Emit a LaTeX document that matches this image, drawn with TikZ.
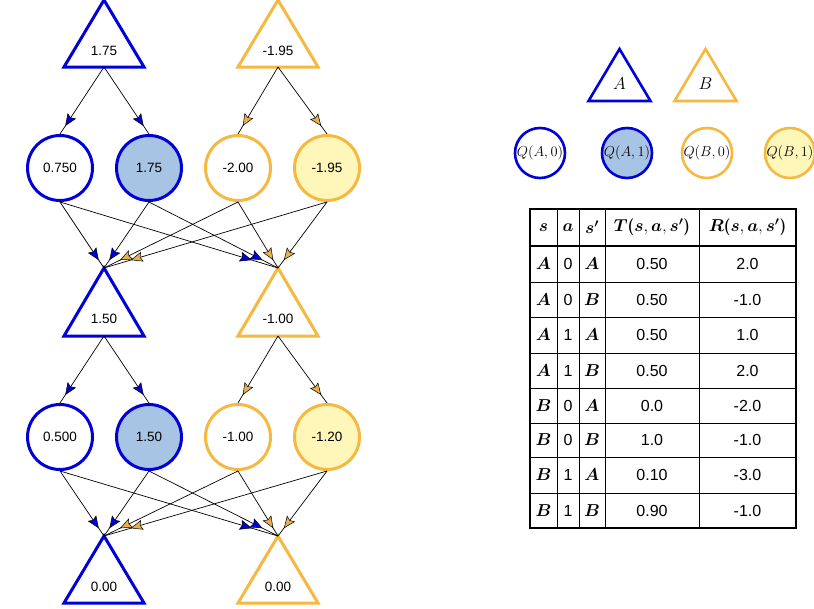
\documentclass[tikz,border=0pt]{standalone}
\usepackage{amsmath}
\usepackage[no-math]{fontspec}
\setmainfont{Liberation Sans}
\usetikzlibrary{arrows.meta,decorations.markings}
\DeclareMathAlphabet{\mathbi}{OML}{cmm}{b}{it}
\DeclareMathAlphabet{\mathbsy}{OMS}{cmsy}{b}{n}
\definecolor{qblue}{RGB}{0,0,215}
\definecolor{qorange}{RGB}{245,185,65}
\definecolor{fillblue}{RGB}{168,196,228}
\definecolor{fillyellow}{RGB}{255,246,185}
\definecolor{headorange}{RGB}{232,176,80}
\newcommand{\nodenumfont}{\fontsize{13.5}{15}\selectfont}
\newcommand{\tabnumfont}{\fontsize{16}{18}\selectfont}
\newcommand{\tabmathfont}{\fontsize{17}{20}\selectfont}
\newcommand{\legqfont}{\fontsize{15.5}{16}\selectfont}
\newcommand{\legtfont}{\fontsize{17.5}{20}\selectfont}
\newcommand{\bparen}[1]{\text{\fontfamily{lmr}\bfseries #1}}
\newcommand{\bprime}{^{\mathbsy{0}}}
\tikzset{
  tri/.style={line width=3pt, line join=miter},
  legtri/.style={line width=2.6pt, line join=miter},
  circ/.style={circle, line width=3pt, minimum size=65pt, inner sep=0pt, font=\nodenumfont},
  legcirc/.style={circle, line width=2.6pt, minimum size=50pt, inner sep=0pt, font=\legqfont},
  numlbl/.style={inner sep=0pt, font=\nodenumfont},
  conn/.style={draw=black, line width=0.7pt, postaction={decorate}},
  bhead/.style={conn, decoration={markings, mark=at position 0.88 with {\arrow{Stealth[length=12pt,width=10pt,inset=2pt,fill=qblue,color=black,line width=0.5pt]}}}},
  ohead/.style={conn, decoration={markings, mark=at position 0.88 with {\arrow{Stealth[length=12pt,width=10pt,inset=2pt,fill=headorange,color=black,line width=0.5pt]}}}},
  cell/.style={inner sep=0pt, font=\tabnumfont},
  mcell/.style={inner sep=0pt, font=\tabmathfont},
  tabouter/.style={line width=2pt},
  tabinner/.style={line width=0.8pt}
}
\begin{document}
\begin{tikzpicture}[x=1pt,y=-1pt]
\useasboundingbox (0,0) rectangle (814,608);
\fill[white] (0,0) rectangle (814,608);

% ---------- Level 1 triangles ----------
\coordinate (A1) at (104,0);
\coordinate (A1b) at (104,67);
\draw[tri,qblue] (A1) -- (64,67) -- (144,67) -- cycle;
\node[numlbl] (A1l) at (104,51) {1.75};
\coordinate (B1) at (278,0);
\coordinate (B1b) at (278,67);
\draw[tri,qorange] (B1) -- (238,67) -- (318,67) -- cycle;
\node[numlbl] (B1l) at (278,51) {-1.95};

% ---------- Level 1 circles ----------
\node[circ,draw=qblue] (qa0a) at (60,168) {0.750};
\node[circ,draw=qblue,fill=fillblue] (qa1a) at (149,168) {1.75};
\node[circ,draw=qorange] (qb0a) at (238,168) {-2.00};
\node[circ,draw=qorange,fill=fillyellow] (qb1a) at (327,168) {-1.95};

% ---------- Level 2 triangles ----------
\coordinate (A2) at (104,268);
\coordinate (A2b) at (104,336);
\draw[tri,qblue] (A2) -- (64,336) -- (144,336) -- cycle;
\node[numlbl] (A2l) at (104,319) {1.50};
\coordinate (B2) at (278,268);
\coordinate (B2b) at (278,336);
\draw[tri,qorange] (B2) -- (238,336) -- (318,336) -- cycle;
\node[numlbl] (B2l) at (278,319) {-1.00};

% ---------- Level 2 circles ----------
\node[circ,draw=qblue] (qa0b) at (60,437) {0.500};
\node[circ,draw=qblue,fill=fillblue] (qa1b) at (149,437) {1.50};
\node[circ,draw=qorange] (qb0b) at (238,437) {-1.00};
\node[circ,draw=qorange,fill=fillyellow] (qb1b) at (327,437) {-1.20};

% ---------- Level 3 triangles ----------
\coordinate (A3) at (104,536);
\draw[tri,qblue] (A3) -- (64,603) -- (144,603) -- cycle;
\node[numlbl] (A3l) at (104,587) {0.00};
\coordinate (B3) at (278,536);
\draw[tri,qorange] (B3) -- (238,603) -- (318,603) -- cycle;
\node[numlbl] (B3l) at (278,587) {0.00};

% ---------- Connectors ----------
\draw[bhead] (A1b) -- (qa0a.north);
\draw[bhead] (A1b) -- (qa1a.north);
\draw[ohead] (B1b) -- (qb0a.north);
\draw[ohead] (B1b) -- (qb1a.north);
\draw[bhead] (qa0a.south) -- (A2);
\draw[bhead] (qa1a.south) -- (A2);
\draw[ohead] (qb0a.south) -- (A2);
\draw[ohead] (qb1a.south) -- (A2);
\draw[bhead] (qa0a.south) -- (B2);
\draw[bhead] (qa1a.south) -- (B2);
\draw[ohead] (qb0a.south) -- (B2);
\draw[ohead] (qb1a.south) -- (B2);

\draw[bhead] (A2b) -- (qa0b.north);
\draw[bhead] (A2b) -- (qa1b.north);
\draw[ohead] (B2b) -- (qb0b.north);
\draw[ohead] (B2b) -- (qb1b.north);
\draw[bhead] (qa0b.south) -- (A3);
\draw[bhead] (qa1b.south) -- (A3);
\draw[ohead] (qb0b.south) -- (A3);
\draw[ohead] (qb1b.south) -- (A3);
\draw[bhead] (qa0b.south) -- (B3);
\draw[bhead] (qa1b.south) -- (B3);
\draw[ohead] (qb0b.south) -- (B3);
\draw[ohead] (qb1b.south) -- (B3);

% ---------- Legend ----------
\draw[legtri,qblue] (619.5,49) -- (588.5,101) -- (650.5,101) -- cycle;
\node[inner sep=0pt,font=\legtfont] (legA) at (619.5,84) {$A$};
\draw[legtri,qorange] (705.5,49) -- (674.5,101) -- (736.5,101) -- cycle;
\node[inner sep=0pt,font=\legtfont] (legB) at (705.5,84) {$B$};
\node[legcirc,draw=qblue] (lqa0) at (540,153) {$Q(A,0)$};
\node[legcirc,draw=qblue,fill=fillblue] (lqa1) at (627,153) {$Q(A,1)$};
\node[legcirc,draw=qorange] (lqb0) at (707,153) {$Q(B,0)$};
\node[legcirc,draw=qorange,fill=fillyellow] (lqb1) at (790,153) {$Q(B,1)$};

% ---------- Table ----------
\foreach \yy in {282,317,353,388,423,457,493} {
  \draw[tabinner] (530,\yy) -- (796,\yy);
}
\foreach \xx in {557,579,605,699} {
  \draw[tabinner] (\xx,209) -- (\xx,528);
}
\draw[tabouter] (530,246) -- (796,246);
\draw[tabouter] (530,209) rectangle (796,528);

\node[mcell] (hs) at (543.5,227.5) {$\mathbi{s}$};
\node[mcell] (ha) at (568,227.5) {$\mathbi{a}$};
\node[mcell] (hsp) at (592,227.5) {$\mathbi{s}\bprime$};
\node[mcell] (hT) at (652,227.5) {$\mathbi{T}\mathopen{\bparen{(}}\mathbi{s},\mathbi{a},\mathbi{s}\bprime\mathclose{\bparen{)}}$};
\node[mcell] (hR) at (747.5,227.5) {$\mathbi{R}\mathopen{\bparen{(}}\mathbi{s},\mathbi{a},\mathbi{s}\bprime\mathclose{\bparen{)}}$};

\foreach \vs/\va/\vsp/\vt/\vr/\yy [count=\i] in {
  A/0/A/0.50/2.0/264,
  A/0/B/0.50/-1.0/299.5,
  A/1/A/0.50/1.0/335,
  A/1/B/0.50/2.0/370.5,
  B/0/A/0.0/-2.0/405.5,
  B/0/B/1.0/-1.0/440,
  B/1/A/0.10/-3.0/475,
  B/1/B/0.90/-1.0/510.5} {
  \node[mcell] (r\i s) at (543.5,\yy) {$\mathbi{\vs}$};
  \node[cell] (r\i a) at (568,\yy) {\va};
  \node[mcell] (r\i sp) at (592,\yy) {$\mathbi{\vsp}$};
  \node[cell] (r\i t) at (652,\yy) {\vt};
  \node[cell] (r\i r) at (747.5,\yy) {\vr};
}
\end{tikzpicture}
\end{document}
